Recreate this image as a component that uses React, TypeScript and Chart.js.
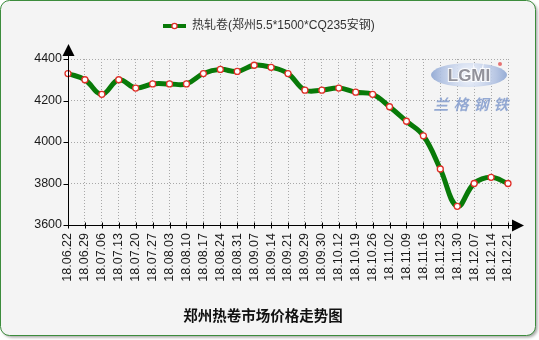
import React, { useEffect, useRef } from "react";
import { Chart, registerables } from "chart.js";

Chart.register(...registerables);

const categories: string[] = [
  "18.06.22", "18.06.29", "18.07.06", "18.07.13", "18.07.20", "18.07.27",
  "18.08.03", "18.08.10", "18.08.17", "18.08.24", "18.08.31", "18.09.07",
  "18.09.14", "18.09.21", "18.09.29", "18.09.30", "18.10.12", "18.10.19",
  "18.10.26", "18.11.02", "18.11.09", "18.11.16", "18.11.23", "18.11.30",
  "18.12.07", "18.12.14", "18.12.21",
];

const prices: number[] = [
  4330, 4300, 4230, 4300, 4260, 4280,
  4280, 4280, 4330, 4350, 4340, 4370,
  4360, 4330, 4250, 4250, 4260, 4240,
  4230, 4170, 4100, 4030, 3870, 3690,
  3800, 3830, 3800,
];

const seriesLabel = "热轧卷(郑州5.5*1500*CQ235安钢)";
const chartTitle = "郑州热卷市场价格走势图";
const yMin = 3600;
const yMax = 4400;
const yStep = 200;

const FONT = "'Liberation Sans', Arial, 'Noto Sans CJK SC', sans-serif";
const LINE_COLOR = "#087a08";
const POINT_BORDER = "#e0302a";

const decorPlugin = {
  id: "decor",
  beforeDraw(chart: any) {
    const ctx = chart.ctx as CanvasRenderingContext2D;
    ctx.save();
    ctx.fillStyle = "#ffffff";
    ctx.fillRect(0, 0, chart.width, chart.height);
    const x = 0.5, y = 0.5, w = 535, h = 335, r = 9;
    ctx.shadowColor = "rgba(0,0,0,0.35)";
    ctx.shadowBlur = 3;
    ctx.shadowOffsetX = 2;
    ctx.shadowOffsetY = 2;
    ctx.beginPath();
    ctx.roundRect(x, y, w, h, r);
    ctx.fillStyle = "#f4f4f4";
    ctx.fill();
    ctx.shadowColor = "transparent";
    ctx.lineWidth = 1;
    ctx.strokeStyle = "#3c8c3c";
    ctx.stroke();
    ctx.restore();
  },
  beforeDatasetsDraw(chart: any) {
    const ctx = chart.ctx as CanvasRenderingContext2D;
    ctx.save();
    const cx = 469, cy = 75;
    const grad = ctx.createRadialGradient(cx, cy, 4, cx, cy, 38);
    grad.addColorStop(0, "rgba(235,240,250,0.9)");
    grad.addColorStop(0.7, "rgba(175,192,225,0.9)");
    grad.addColorStop(1, "rgba(140,165,210,0.9)");
    ctx.beginPath();
    ctx.ellipse(cx, cy, 38, 12, 0, 0, Math.PI * 2);
    ctx.fillStyle = grad;
    ctx.fill();
    ctx.font = "bold 17px " + FONT;
    ctx.textAlign = "center";
    ctx.textBaseline = "middle";
    ctx.lineWidth = 2;
    ctx.strokeStyle = "rgba(255,255,255,0.9)";
    ctx.strokeText("LGMI", cx, cy + 1);
    ctx.fillStyle = "rgba(140,140,150,0.95)";
    ctx.fillText("LGMI", cx, cy + 1);
    ctx.fillStyle = "rgba(225,80,80,0.8)";
    ctx.beginPath();
    ctx.arc(cx + 31, cy - 11, 2, 0, Math.PI * 2);
    ctx.fill();
    ctx.font = "bold italic 15px 'Noto Sans CJK SC', sans-serif";
    ctx.fillStyle = "rgba(130,155,205,0.85)";
    const chars = ["兰", "格", "钢", "铁"];
    chars.forEach((c, i) => ctx.fillText(c, 441 + i * 20, 104));
    ctx.restore();
  },
  afterDraw(chart: any) {
    const ctx = chart.ctx as CanvasRenderingContext2D;
    const area = chart.chartArea;
    const xs = chart.scales.x;
    const ys = chart.scales.y;
    const left = Math.round(area.left) + 0.5;
    const bottom = Math.round(area.bottom) + 0.5;
    ctx.save();
    ctx.strokeStyle = "#000";
    ctx.fillStyle = "#000";
    ctx.lineWidth = 1;
    ctx.beginPath();
    ctx.moveTo(left, bottom);
    ctx.lineTo(left, area.top - 4);
    ctx.moveTo(left, bottom);
    ctx.lineTo(area.right + 5, bottom);
    ys.ticks.forEach((t: any) => {
      const py = Math.round(ys.getPixelForValue(t.value)) + 0.5;
      ctx.moveTo(left - 5, py);
      ctx.lineTo(left, py);
    });
    xs.ticks.forEach((_t: any, i: number) => {
      const px = Math.round(xs.getPixelForTick(i)) + 0.5;
      ctx.moveTo(px, bottom - 3);
      ctx.lineTo(px, bottom + 3);
    });
    ctx.stroke();
    ctx.beginPath();
    ctx.moveTo(left, area.top - 15);
    ctx.lineTo(left - 6, area.top - 3);
    ctx.lineTo(left + 6, area.top - 3);
    ctx.closePath();
    ctx.fill();
    ctx.beginPath();
    ctx.moveTo(area.right + 16, bottom);
    ctx.lineTo(area.right + 4, bottom - 6);
    ctx.lineTo(area.right + 4, bottom + 6);
    ctx.closePath();
    ctx.fill();

    const ly = 26;
    ctx.strokeStyle = LINE_COLOR;
    ctx.lineWidth = 4;
    ctx.beginPath();
    ctx.moveTo(163, ly);
    ctx.lineTo(186, ly);
    ctx.stroke();
    ctx.beginPath();
    ctx.arc(174.5, ly, 2.6, 0, Math.PI * 2);
    ctx.fillStyle = "#fff";
    ctx.fill();
    ctx.lineWidth = 1.3;
    ctx.strokeStyle = POINT_BORDER;
    ctx.stroke();
    ctx.font = "12px " + FONT;
    ctx.fillStyle = "#333";
    ctx.textAlign = "left";
    ctx.textBaseline = "middle";
    ctx.fillText(chart.data.datasets[0].label, 192, ly);

    ctx.font = "bold 14.5px " + FONT;
    ctx.fillStyle = "#111";
    ctx.textAlign = "center";
    ctx.fillText(chartTitle, 263, 317);
    ctx.restore();
  },
};

export default function App() {
  const ref = useRef<HTMLCanvasElement | null>(null);
  useEffect(() => {
    document.body.style.margin = "0";
    const canvas = ref.current;
    if (!canvas) return;
    const chart = new Chart(canvas, {
      type: "line",
      data: {
        labels: categories,
        datasets: [
          {
            label: seriesLabel,
            data: prices,
            borderColor: LINE_COLOR,
            borderWidth: 5,
            tension: 0.4,
            fill: false,
            pointRadius: 3,
            pointBorderWidth: 1.3,
            pointBackgroundColor: "#ffffff",
            pointBorderColor: POINT_BORDER,
          },
        ],
      },
      options: {
        animation: false,
        responsive: false,
        devicePixelRatio: 1,
        layout: { padding: { top: 59, right: 31, left: 0, bottom: 0 } },
        plugins: {
          legend: { display: false },
          title: { display: false },
          tooltip: { enabled: false },
        },
        scales: {
          x: {
            type: "category",
            offset: false,
            grid: { color: "#a8a8a8", drawTicks: false, lineWidth: 1 },
            border: { display: false, dash: [1, 2] },
            ticks: {
              autoSkip: false,
              minRotation: 90,
              maxRotation: 90,
              padding: 8,
              color: "#1a1a1a",
              font: { family: FONT, size: 12.5 },
            },
            afterFit(scale: any) {
              scale.height = 115;
            },
          },
          y: {
            min: yMin,
            max: yMax,
            grid: { color: "#a8a8a8", drawTicks: false, lineWidth: 1 },
            border: { display: false, dash: [1, 2] },
            ticks: {
              stepSize: yStep,
              padding: 6,
              color: "#1a1a1a",
              font: { family: FONT, size: 12.5 },
              callback: (v: any) => String(v),
            },
            afterFit(scale: any) {
              scale.width = 68;
            },
          },
        },
      },
      plugins: [decorPlugin],
    });
    return () => chart.destroy();
  }, []);
  return (
    <canvas
      ref={ref}
      width={539}
      height={340}
      style={{ display: "block", width: 539, height: 340 }}
    />
  );
}
